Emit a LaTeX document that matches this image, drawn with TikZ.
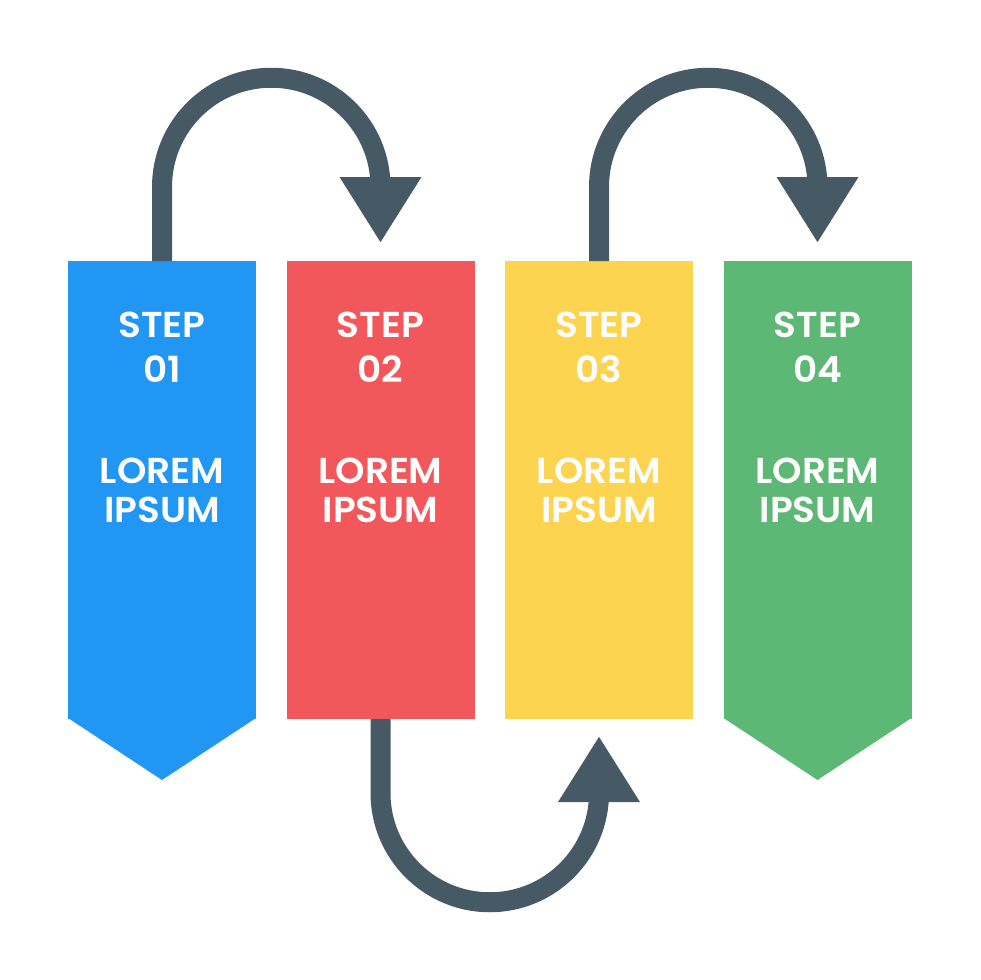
\documentclass[tikz,border=0pt]{standalone}
\usepackage{fontspec}
\newfontfamily\labfont{Poppins SemiBold}[FakeStretch=1.04]
\usetikzlibrary{arrows.meta,calc}
\definecolor{cblue}{HTML}{2196F3}
\definecolor{cred}{HTML}{F2575B}
\definecolor{cyellow}{HTML}{FDD44F}
\definecolor{cgreen}{HTML}{5CB874}
\definecolor{cdark}{HTML}{455A64}
\begin{document}
\begin{tikzpicture}[x=1pt,y=-1pt,
  panel/.style={rectangle, fill=#1, minimum width=188pt, minimum height=458pt, inner sep=0pt, outer sep=0pt},
  conn/.style={draw=cdark, line width=20pt, -{Triangle[width=77pt,length=66pt]}},
  lab/.style={text=white, font=\labfont\fontsize{36}{36}\selectfont, anchor=base, inner sep=0pt}]
\useasboundingbox (0,0) rectangle (980,980);
% panels
\node[panel=cblue]   (b1) at (162,490)   {};
\node[panel=cred]    (b2) at (380.5,490) {};
\node[panel=cyellow] (b3) at (599,490)   {};
\node[panel=cgreen]  (b4) at (817.5,490) {};
% pointed ends
\fill[cblue]  ($(b1.south west)+(0,-1)$) -- ($(b1.south)+(0,61)$) -- ($(b1.south east)+(0,-1)$) -- cycle;
\fill[cgreen] ($(b4.south west)+(0,-1)$) -- ($(b4.south)+(0,61)$) -- ($(b4.south east)+(0,-1)$) -- cycle;
% arrow tips
\coordinate (t1) at (380.5,243);
\coordinate (t2) at (599,736);
\coordinate (t3) at (817.5,243);
% connectors
\draw[conn] (b1.north) -- ++(0,-74) arc[start angle=180,end angle=0,radius=109.25pt] -- (t1);
\draw[conn] (b2.south) -- ++(0,74) arc[start angle=180,end angle=360,radius=109.25pt] -- (t2);
\draw[conn] (b3.north) -- ++(0,-74) arc[start angle=180,end angle=0,radius=109.25pt] -- (t3);
% texts
\foreach \i/\x in {1/162,2/380.5,3/599,4/817.5}{
  \node[lab] (s\i) at (\x,337) {STEP};
  \node[lab] (n\i) at (\x,382) {0\i};
  \node[lab] (l\i) at (\x,483) {LOREM};
  \node[lab] (p\i) at (\x,522) {IPSUM};
}
\end{tikzpicture}
\end{document}
